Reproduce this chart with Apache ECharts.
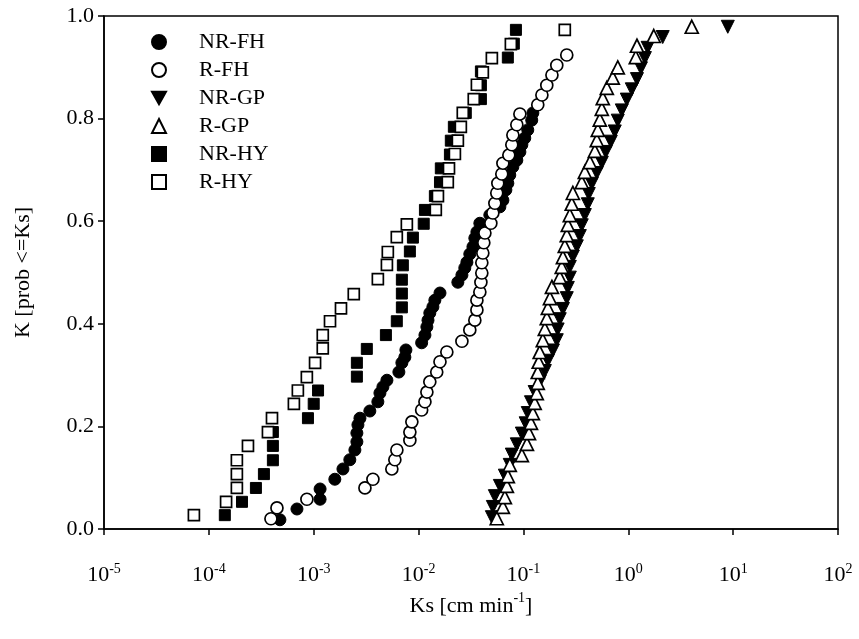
<!DOCTYPE html>
<html>
<head>
<meta charset="utf-8">
<script src="https://cdn.jsdelivr.net/npm/echarts@6/dist/echarts.min.js"></script>
<style>
html,body{margin:0;padding:0;background:#fff;}
#chart{width:859px;height:639px;}
</style>
</head>
<body>
<div id="chart"></div>
<script>
// ---- tick labels ----
const xTickExps = ['-5','-4','-3','-2','-1','0','1','2'];
const yTickLabels = ['0.0','0.2','0.4','0.6','0.8','1.0'];
const seriesNames = ['NR-FH','R-FH','NR-GP','R-GP','NR-HY','R-HY'];

// ---- NR-FH ----
const nrFH_ks = [4.76e-4,6.92e-4,1.15e-3,1.15e-3,1.59e-3,1.90e-3,2.21e-3,2.47e-3,2.58e-3,2.58e-3,2.64e-3,2.76e-3,3.43e-3,4.09e-3,4.28e-3,4.57e-3,4.99e-3,6.49e-3,6.93e-3,7.40e-3,7.57e-3,1.07e-2,1.15e-2,1.20e-2,1.23e-2,1.28e-2,1.37e-2,1.43e-2,1.60e-2,2.37e-2,2.59e-2,2.76e-2,2.89e-2,3.08e-2,3.30e-2,3.44e-2,3.60e-2,3.84e-2,4.78e-2,5.96e-2,6.37e-2,6.80e-2,7.10e-2,7.41e-2,7.93e-2,8.65e-2,9.25e-2,9.66e-2,0.103,0.110,0.120,0.123];
const nrFH_k = [0.018,0.039,0.058,0.078,0.097,0.117,0.135,0.154,0.170,0.187,0.203,0.216,0.230,0.248,0.265,0.277,0.290,0.306,0.324,0.335,0.349,0.363,0.378,0.394,0.407,0.421,0.433,0.446,0.460,0.481,0.495,0.509,0.520,0.536,0.550,0.567,0.579,0.596,0.612,0.628,0.641,0.661,0.674,0.690,0.706,0.719,0.735,0.749,0.762,0.778,0.797,0.811];

// ---- R-FH ----
const rFH_ks = [3.91e-4,4.46e-4,8.61e-4,3.08e-3,3.67e-3,5.56e-3,5.94e-3,6.21e-3,8.26e-3,8.26e-3,8.63e-3,1.07e-2,1.15e-2,1.20e-2,1.28e-2,1.49e-2,1.60e-2,1.86e-2,2.59e-2,3.08e-2,3.44e-2,3.60e-2,3.60e-2,3.84e-2,3.93e-2,4.01e-2,4.01e-2,4.10e-2,4.19e-2,4.29e-2,4.89e-2,5.11e-2,5.34e-2,5.57e-2,5.70e-2,6.22e-2,6.37e-2,7.26e-2,7.75e-2,7.93e-2,8.65e-2,9.25e-2,0.137,0.150,0.167,0.187,0.208,0.259];
const rFH_k = [0.020,0.041,0.058,0.080,0.097,0.117,0.135,0.154,0.173,0.189,0.209,0.232,0.248,0.267,0.287,0.306,0.326,0.345,0.366,0.388,0.407,0.427,0.446,0.462,0.481,0.499,0.519,0.538,0.558,0.577,0.596,0.616,0.635,0.655,0.674,0.692,0.713,0.729,0.749,0.768,0.788,0.809,0.827,0.846,0.865,0.885,0.904,0.924];

// ---- NR-GP ----
const nrGP_ks = [5.00e-2,5.11e-2,5.34e-2,5.96e-2,6.65e-2,7.41e-2,7.75e-2,8.65e-2,9.66e-2,0.105,0.110,0.118,0.128,0.143,0.160,0.171,0.191,0.208,0.212,0.222,0.238,0.259,0.265,0.277,0.277,0.296,0.323,0.345,0.360,0.385,0.411,0.420,0.449,0.501,0.559,0.610,0.681,0.743,0.794,0.867,0.968,1.08,1.21,1.32,1.44,1.53,2.13,8.89];
const nrGP_k = [0.023,0.043,0.064,0.084,0.104,0.125,0.145,0.165,0.186,0.206,0.226,0.247,0.267,0.287,0.308,0.328,0.348,0.368,0.389,0.409,0.429,0.450,0.470,0.490,0.511,0.531,0.551,0.571,0.592,0.612,0.633,0.653,0.673,0.694,0.714,0.735,0.755,0.775,0.796,0.816,0.837,0.857,0.877,0.898,0.918,0.938,0.959,0.979];

// ---- R-GP ----
const rGP_ks = [5.57e-2,6.37e-2,6.65e-2,6.95e-2,7.10e-2,7.41e-2,9.66e-2,0.108,0.113,0.118,0.123,0.128,0.134,0.137,0.137,0.140,0.143,0.153,0.160,0.167,0.171,0.179,0.187,0.222,0.232,0.238,0.248,0.259,0.265,0.277,0.289,0.296,0.360,0.385,0.430,0.480,0.501,0.512,0.535,0.559,0.571,0.624,0.711,0.794,1.18,1.21,1.75,4.03];
const rGP_k = [0.021,0.043,0.062,0.084,0.103,0.125,0.144,0.166,0.187,0.207,0.226,0.246,0.265,0.285,0.306,0.326,0.345,0.368,0.390,0.411,0.431,0.450,0.472,0.491,0.511,0.530,0.552,0.573,0.593,0.612,0.634,0.655,0.676,0.696,0.715,0.737,0.758,0.778,0.798,0.819,0.840,0.860,0.880,0.900,0.920,0.942,0.961,0.979];

// ---- NR-HY ----
const nrHY_ks = [1.42e-4,2.07e-4,2.81e-4,3.35e-4,4.08e-4,4.08e-4,4.08e-4,8.81e-4,1.00e-3,1.10e-3,2.58e-3,2.58e-3,3.21e-3,4.88e-3,6.20e-3,6.93e-3,6.93e-3,6.93e-3,7.08e-3,8.26e-3,8.83e-3,1.12e-2,1.15e-2,1.43e-2,1.60e-2,1.63e-2,1.99e-2,2.03e-2,2.17e-2,2.82e-2,3.93e-2,3.93e-2,3.93e-2,7.10e-2,8.10e-2,8.48e-2];
const nrHY_k = [0.027,0.053,0.080,0.107,0.134,0.162,0.189,0.216,0.244,0.270,0.297,0.324,0.351,0.378,0.405,0.432,0.459,0.486,0.514,0.541,0.568,0.595,0.622,0.649,0.676,0.703,0.730,0.757,0.784,0.811,0.838,0.865,0.892,0.919,0.946,0.973];

// ---- R-HY ----
const rHY_ks = [7.2e-5,1.46e-4,1.85e-4,1.85e-4,1.85e-4,2.36e-4,3.66e-4,4.00e-4,6.47e-4,7.06e-4,8.60e-4,1.03e-3,1.22e-3,1.22e-3,1.43e-3,1.82e-3,2.41e-3,4.09e-3,4.99e-3,5.09e-3,6.20e-3,7.73e-3,1.46e-2,1.53e-2,1.90e-2,1.95e-2,2.22e-2,2.37e-2,2.53e-2,2.64e-2,3.36e-2,3.60e-2,4.10e-2,5.00e-2,7.59e-2,0.248];
const rHY_k = [0.027,0.053,0.080,0.107,0.134,0.162,0.189,0.216,0.244,0.270,0.296,0.324,0.352,0.378,0.405,0.430,0.458,0.487,0.515,0.540,0.569,0.594,0.622,0.649,0.676,0.703,0.731,0.757,0.784,0.811,0.838,0.866,0.890,0.918,0.945,0.973];

const FONT = 'Times New Roman, Liberation Serif, serif';
const pair = (xs, ys) => xs.map((x, i) => [x, ys[i]]);

const filled = {color: '#000', borderColor: '#000', borderWidth: 1, opacity: 1};
const open = {color: '#fff', borderColor: '#000', borderWidth: 1.7, opacity: 1};

function mk(name, xs, ys, symbol, size, style, rotate) {
  return {
    name: name, type: 'scatter', data: pair(xs, ys),
    symbol: symbol, symbolSize: size, symbolRotate: rotate || 0,
    itemStyle: style, emphasis: {disabled: true}, animation: false
  };
}

const downTri = 'path://M0,0 L10,0 L5,9 Z';

const chart = echarts.init(document.getElementById('chart'), null, {renderer: 'canvas'});
chart.setOption({
  backgroundColor: '#fff',
  animation: false,
  grid: {left: 104, right: 21, top: 16, bottom: 110, show: true, borderColor: '#000', borderWidth: 1.5, backgroundColor: 'transparent'},
  legend: {
    orient: 'vertical', left: 151, top: 31, padding: 0,
    itemWidth: 14, itemHeight: 14, itemGap: 6,
    data: [
      {name: seriesNames[0]},
      {name: seriesNames[1]},
      {name: seriesNames[2], icon: downTri, itemStyle: {color: '#000', borderColor: '#000'}},
      {name: seriesNames[3]},
      {name: seriesNames[4]},
      {name: seriesNames[5]}
    ],
    formatter: function (n) { return '{p| }{t|' + n + '}'; },
    textStyle: {
      fontFamily: FONT, fontSize: 22, color: '#000',
      rich: {p: {width: 28}, t: {fontFamily: FONT, fontSize: 22, color: '#000', lineHeight: 22}}
    }
  },
  xAxis: {
    type: 'log', logBase: 10, min: 1e-5, max: 100,
    name: '{a|Ks [cm min}{s|-1}{a|]}', nameLocation: 'middle', nameGap: 62,
    nameTextStyle: {
      rich: {
        a: {fontFamily: FONT, fontSize: 22, color: '#000', lineHeight: 26, verticalAlign: 'bottom'},
        s: {fontFamily: FONT, fontSize: 14, color: '#000', lineHeight: 26, verticalAlign: 'top', padding: [0, 0, 8, 0]}
      }
    },
    axisLine: {lineStyle: {color: '#000', width: 1.5}},
    axisTick: {show: true, inside: false, length: 6, lineStyle: {color: '#000', width: 1.5}},
    minorTick: {show: false},
    splitLine: {show: false},
    axisLabel: {
      margin: 33,
      formatter: function (v) {
        const e = Math.round(Math.log10(v));
        return '{b|10}{s|' + xTickExps[e + 5] + '}';
      },
      rich: {
        b: {fontFamily: FONT, fontSize: 22, color: '#000', lineHeight: 24, verticalAlign: 'bottom'},
        s: {fontFamily: FONT, fontSize: 14, color: '#000', lineHeight: 24, verticalAlign: 'top'}
      }
    }
  },
  yAxis: {
    type: 'value', min: 0, max: 1, interval: 0.2,
    name: 'K [prob <=Ks]', nameLocation: 'middle', nameGap: 70, nameRotate: 90,
    nameTextStyle: {fontFamily: FONT, fontSize: 22, color: '#000'},
    axisLine: {show: true, lineStyle: {color: '#000', width: 1.5}},
    axisTick: {show: true, inside: false, length: 6, lineStyle: {color: '#000', width: 1.5}},
    splitLine: {show: false},
    axisLabel: {
      margin: 10, fontFamily: FONT, fontSize: 22, color: '#000',
      formatter: function (v) { return yTickLabels[Math.round(v / 0.2)]; }
    }
  },
  series: [
    mk('NR-FH', nrFH_ks, nrFH_k, 'circle', 12, filled),
    mk('R-FH', rFH_ks, rFH_k, 'circle', 12, open),
    mk('NR-GP', nrGP_ks, nrGP_k, 'triangle', 13, filled, 180),
    mk('R-GP', rGP_ks, rGP_k, 'triangle', 13, open),
    mk('NR-HY', nrHY_ks, nrHY_k, 'rect', 11, filled),
    mk('R-HY', rHY_ks, rHY_k, 'rect', 11, open)
  ]
});
</script>
</body>
</html>
